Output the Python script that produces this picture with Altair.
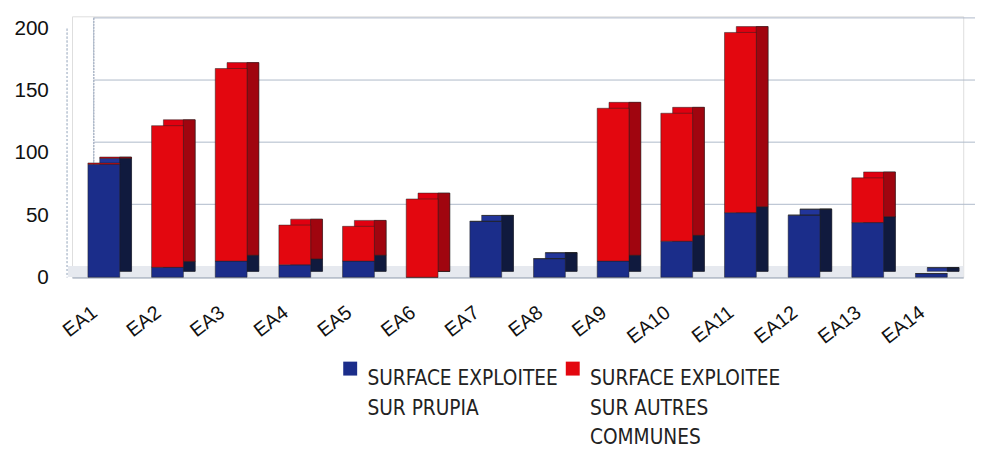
import altair as alt
import pandas as pd

categories = ["EA1", "EA2", "EA3", "EA4", "EA5", "EA6", "EA7",
              "EA8", "EA9", "EA10", "EA11", "EA12", "EA13", "EA14"]
surface_prupia = [91, 8, 13, 10, 13, 0, 45, 15, 13, 29, 52, 50, 44, 3]
surface_autres = [1, 114, 155, 32, 28, 63, 0, 0, 123, 103, 145, 0, 36, 0]
series = ["SURFACE EXPLOITEE\nSUR PRUPIA", "SURFACE EXPLOITEE\nSUR AUTRES\nCOMMUNES"]
front_colors = ["#1b2d8a", "#e3070f"]
top_colors = ["#22359a", "#e00010"]
side_colors = ["#101a3e", "#a0050f"]
grid_values = [0, 50, 100, 150, 200]

rows = []
for i, c in enumerate(categories):
    rows.append({"cat": c, "serie": series[0], "ord": 0, "val": surface_prupia[i]})
    rows.append({"cat": c, "serie": series[1], "ord": 1, "val": surface_autres[i]})
df = pd.DataFrame(rows)
grid_df = pd.DataFrame({"g": grid_values[1:]})

W, H = 905, 265
DX, DY = 12, -6
yscale = alt.Scale(domain=[0, 210], nice=False)
xenc = alt.X("cat:N", sort=categories, title=None,
             scale=alt.Scale(paddingInner=0.5, paddingOuter=0.25),
             axis=alt.Axis(labelAngle=-38, labelFontSize=20, labelFont="Liberation Sans",
                           labelColor="#111", ticks=False, labelPadding=33, labelOffset=-9,
                           labelAlign="right", labelBaseline="middle",
                           domainColor="#b8c0cc", domainWidth=2))

floor = alt.Chart(grid_df).mark_rule(color="#e6e9ef", strokeWidth=11).encode(
    y=alt.datum(0, scale=yscale), yOffset=alt.value(-6),
    x=alt.value(-4), x2=alt.value(W),
)

grid = alt.Chart(grid_df).mark_rule(color="#aeb9c9", strokeWidth=1).encode(
    y=alt.Y("g:Q", scale=yscale),
    yOffset=alt.value(-11),
    x=alt.value(22), x2=alt.value(W + 12),
)

wall = alt.Chart(grid_df).mark_rule(color="#aeb9c9", strokeWidth=1, strokeDash=[2, 1]).encode(
    y=alt.datum(200, scale=yscale), y2=alt.datum(0),
    yOffset=alt.value(-11),
    x=alt.value(22),
)

wall_front = alt.Chart(grid_df).mark_rule(color="#c4cdd9", strokeWidth=1, strokeDash=[2, 2]).encode(
    y=alt.datum(200, scale=yscale), y2=alt.datum(0),
    x=alt.value(-5),
)

back = alt.Chart(df).mark_bar(stroke="#222", strokeWidth=0.5).encode(
    x=xenc,
    y=alt.Y("val:Q", stack="zero", scale=yscale),
    color=alt.Color("serie:N", scale=alt.Scale(domain=series, range=top_colors), legend=None),
    order=alt.Order("ord:Q"),
    xOffset=alt.value(DX),
    yOffset=alt.value(DY),
)

side = alt.Chart(df).mark_bar(stroke="#222", strokeWidth=0.5, width=DX,
                              xOffset=16 + DX / 2, yOffset=DY).encode(
    x=xenc,
    y=alt.Y("val:Q", stack="zero", scale=yscale),
    color=alt.Color("serie:N", scale=alt.Scale(domain=series, range=side_colors), legend=None),
    order=alt.Order("ord:Q"),
)

front = alt.Chart(df).mark_bar(stroke="#222", strokeWidth=0.5).encode(
    x=xenc,
    y=alt.Y("val:Q", stack="zero", scale=yscale, title=None,
            axis=alt.Axis(values=grid_values, grid=False, ticks=False, domain=False,
                          labelFontSize=21, labelFont="Liberation Sans", labelColor="#111",
                          labelPadding=24)),
    color=alt.Color("serie:N", scale=alt.Scale(domain=series, range=front_colors),
                    legend=alt.Legend(title=None, orient="none", legendX=272, legendY=347,
                                      direction="horizontal", columns=2, symbolType="square",
                                      symbolSize=200, symbolStrokeWidth=0,
                                      labelFontSize=21, labelFont="DejaVu Sans Condensed",
                                      labelColor="#222", labelLimit=400, columnPadding=4,
                                      labelOffset=7, labelBaseline="top",
                                      labelExpr="length(split(datum.label, '\\n')) < 3 ? split(datum.label + '\\n ', '\\n') : split(datum.label, '\\n')")),
    order=alt.Order("ord:Q"),
)

chart = alt.layer(floor, grid, wall, wall_front, back, side, front).resolve_scale(color="independent").properties(
    width=W, height=H, padding={"left": 5, "top": 5, "right": 0, "bottom": 0}
).configure_view(strokeWidth=0).configure(background="white", style={"guide-label": {"lineHeight": 30}})

chart.save("out.html", embed_options={"renderer": "svg", "actions": False})
